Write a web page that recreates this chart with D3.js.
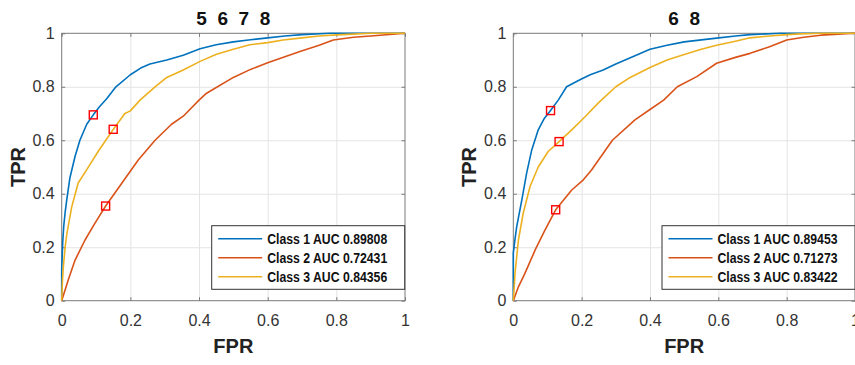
<!DOCTYPE html>
<html>
<head>
<meta charset="utf-8">
<script src="https://cdn.jsdelivr.net/npm/d3@7"></script>
<style>
body { margin: 0; background: #fff; }
svg { display: block; font-family: "Liberation Sans", Arial, sans-serif; }
.axis path { display: none; }
.axis line { stroke: #7a7a7a; }
.axis text { fill: #333; font-size: 16px; font-family: "Liberation Sans", Arial, sans-serif; }
.grid line { stroke: #e4e4e4; }
.grid path { display: none; }
</style>
</head>
<body>
<script>
var width = 855;
var height = 365;

var classNames = ['Class 1', 'Class 2', 'Class 3'];
var colors = ['#0072BD', '#D95319', '#EDB120'];
var ticks = [0, 0.2, 0.4, 0.6, 0.8, 1];
var tickLabels = ['0', '0.2', '0.4', '0.6', '0.8', '1'];

// panel "5 6 7 8"
var titleA = '5  6  7  8';
var aucA = ['0.89808', '0.72431', '0.84356'];
var rocA1 = [[0,0],[0,0.12],[0.003,0.22],[0.006,0.28],[0.01,0.33],[0.015,0.38],[0.024,0.46],[0.039,0.54],[0.053,0.6],[0.073,0.66],[0.092,0.695],[0.11,0.725],[0.131,0.755],[0.158,0.8],[0.2,0.845],[0.23,0.87],[0.257,0.885],[0.306,0.9],[0.354,0.918],[0.403,0.942],[0.45,0.957],[0.5,0.968],[0.55,0.976],[0.6,0.983],[0.65,0.99],[0.7,0.995],[0.78,1],[1,1]];
var rocA2 = [[0,0],[0.019,0.077],[0.039,0.152],[0.068,0.227],[0.097,0.29],[0.128,0.354],[0.175,0.439],[0.223,0.526],[0.272,0.6],[0.32,0.66],[0.354,0.69],[0.4,0.75],[0.422,0.776],[0.5,0.835],[0.55,0.865],[0.6,0.89],[0.694,0.932],[0.75,0.955],[0.791,0.975],[0.85,0.985],[0.9,0.99],[1,1]];
var rocA3 = [[0,0],[0.002,0.07],[0.005,0.13],[0.01,0.2],[0.015,0.25],[0.029,0.35],[0.048,0.44],[0.073,0.49],[0.107,0.56],[0.15,0.64],[0.184,0.7],[0.2,0.71],[0.228,0.75],[0.272,0.8],[0.306,0.835],[0.354,0.863],[0.403,0.895],[0.451,0.922],[0.5,0.94],[0.548,0.957],[0.6,0.965],[0.645,0.975],[0.7,0.983],[0.75,0.99],[0.8,0.994],[0.85,0.997],[0.9,1],[1,1]];
var markA = [[0.092,0.695],[0.128,0.354],[0.15,0.641]];

// panel "6 8"
var titleB = '6  8';
var aucB = ['0.89453', '0.71273', '0.83422'];
var rocB1 = [[0,0],[0,0.1],[0,0.177],[0.005,0.23],[0.01,0.277],[0.025,0.377],[0.039,0.477],[0.054,0.564],[0.073,0.639],[0.09,0.68],[0.109,0.711],[0.132,0.751],[0.156,0.8],[0.195,0.826],[0.225,0.845],[0.263,0.863],[0.3,0.885],[0.351,0.913],[0.4,0.94],[0.45,0.955],[0.5,0.968],[0.595,0.982],[0.65,0.99],[0.693,0.995],[0.78,1],[1,1]];
var rocB2 = [[0,0],[0.015,0.052],[0.034,0.102],[0.064,0.19],[0.093,0.265],[0.124,0.34],[0.171,0.414],[0.205,0.452],[0.229,0.489],[0.29,0.6],[0.356,0.676],[0.4,0.715],[0.44,0.75],[0.48,0.8],[0.537,0.838],[0.595,0.888],[0.65,0.91],[0.693,0.925],[0.75,0.95],[0.8,0.975],[0.85,0.985],[0.9,0.993],[1,1]];
var rocB3 = [[0,0],[0.005,0.102],[0.015,0.227],[0.029,0.327],[0.049,0.427],[0.073,0.5],[0.102,0.558],[0.134,0.595],[0.171,0.639],[0.21,0.688],[0.249,0.74],[0.3,0.8],[0.342,0.835],[0.4,0.872],[0.45,0.9],[0.498,0.92],[0.55,0.94],[0.595,0.955],[0.65,0.97],[0.693,0.983],[0.75,0.99],[0.8,0.995],[0.84,0.998],[0.9,1],[1,1]];
var markB = [[0.109,0.711],[0.124,0.34],[0.134,0.595]];

var svg = d3.select("body").append("svg")
  .attr("width", width)
  .attr("height", height);

function drawPanel(left, right, title, curves, marks, auc, legX) {
  var top = 33.3, bottom = 300.7;
  var x = d3.scaleLinear().domain([0, 1]).range([left, right]);
  var y = d3.scaleLinear().domain([0, 1]).range([bottom, top]);
  var g = svg.append("g");

  // grid
  g.append("g").attr("class", "grid")
    .attr("transform", "translate(0," + bottom + ")")
    .call(d3.axisBottom(x).tickValues(ticks.slice(1, -1)).tickSize(-(bottom - top)).tickFormat(""));
  g.append("g").attr("class", "grid")
    .attr("transform", "translate(" + left + ",0)")
    .call(d3.axisLeft(y).tickValues(ticks.slice(1, -1)).tickSize(-(right - left)).tickFormat(""));

  // box
  g.append("rect")
    .attr("x", left).attr("y", top)
    .attr("width", right - left).attr("height", bottom - top)
    .attr("fill", "none").attr("stroke", "#7a7a7a");

  // axes, ticks pointing inward
  g.append("g").attr("class", "axis")
    .attr("transform", "translate(0," + bottom + ")")
    .call(d3.axisBottom(x).tickValues(ticks).tickSizeInner(-3.5).tickSizeOuter(0).tickPadding(14)
      .tickFormat(function(d, i) { return tickLabels[i]; }));
  g.append("g").attr("class", "axis")
    .attr("transform", "translate(" + left + ",0)")
    .call(d3.axisLeft(y).tickValues(ticks).tickSizeInner(-3.5).tickSizeOuter(0).tickPadding(7)
      .tickFormat(function(d, i) { return tickLabels[i]; }));
  g.append("g").attr("class", "axis")
    .attr("transform", "translate(0," + top + ")")
    .call(d3.axisTop(x).tickValues(ticks).tickSizeInner(-3.5).tickSizeOuter(0).tickFormat(""));
  g.append("g").attr("class", "axis")
    .attr("transform", "translate(" + right + ",0)")
    .call(d3.axisRight(y).tickValues(ticks).tickSizeInner(-3.5).tickSizeOuter(0).tickFormat(""));

  var line = d3.line()
    .x(function(d) { return x(d[0]); })
    .y(function(d) { return y(d[1]); });

  curves.forEach(function(c, i) {
    g.append("path")
      .datum(c)
      .attr("d", line)
      .attr("fill", "none")
      .attr("stroke", colors[i])
      .attr("stroke-width", 1.6)
      .attr("stroke-linejoin", "round");
  });

  g.selectAll(".mark")
    .data(marks)
    .enter().append("rect")
    .attr("class", "mark")
    .attr("x", function(d) { return x(d[0]) - 4; })
    .attr("y", function(d) { return y(d[1]) - 4; })
    .attr("width", 8).attr("height", 8)
    .attr("fill", "none")
    .attr("stroke", "#ff0000")
    .attr("stroke-width", 1.4);

  // title & labels
  g.append("text")
    .attr("x", (left + right) / 2).attr("y", 25)
    .attr("text-anchor", "middle")
    .attr("xml:space", "preserve")
    .style("white-space", "pre")
    .style("font-size", "19px").style("font-weight", "bold").attr("fill", "#111")
    .text(title);
  g.append("text")
    .attr("x", (left + right) / 2).attr("y", 353)
    .attr("text-anchor", "middle")
    .style("font-size", "20px").style("font-weight", "bold").attr("fill", "#222")
    .text("FPR");
  g.append("text")
    .attr("transform", "translate(" + (left - 37) + "," + ((top + bottom) / 2) + ") rotate(-90)")
    .attr("text-anchor", "middle")
    .style("font-size", "20px").style("font-weight", "bold").attr("fill", "#222")
    .text("TPR");

  // legend
  var lg = g.append("g").attr("transform", "translate(" + legX + ",225.7)");
  lg.append("rect")
    .attr("width", 193).attr("height", 63.6)
    .attr("fill", "#fff").attr("stroke", "#333").attr("stroke-width", 1);
  classNames.forEach(function(name, i) {
    var ry = 13 + i * 19;
    lg.append("line")
      .attr("x1", 6.5).attr("x2", 50.5)
      .attr("y1", ry).attr("y2", ry)
      .attr("stroke", colors[i]).attr("stroke-width", 1.6);
    lg.append("text")
      .attr("x", 55.5).attr("y", ry + 5)
      .style("font-size", "14px").style("font-weight", "bold").attr("fill", "#111")
      .attr("textLength", 120).attr("lengthAdjust", "spacingAndGlyphs")
      .text(name + " AUC " + auc[i]);
  });
}

drawPanel(61.7, 405, titleA, [rocA1, rocA2, rocA3], markA, aucA, 211.7);
drawPanel(513.3, 855, titleB, [rocB1, rocB2, rocB3], markB, aucB, 662);
</script>
</body>
</html>
